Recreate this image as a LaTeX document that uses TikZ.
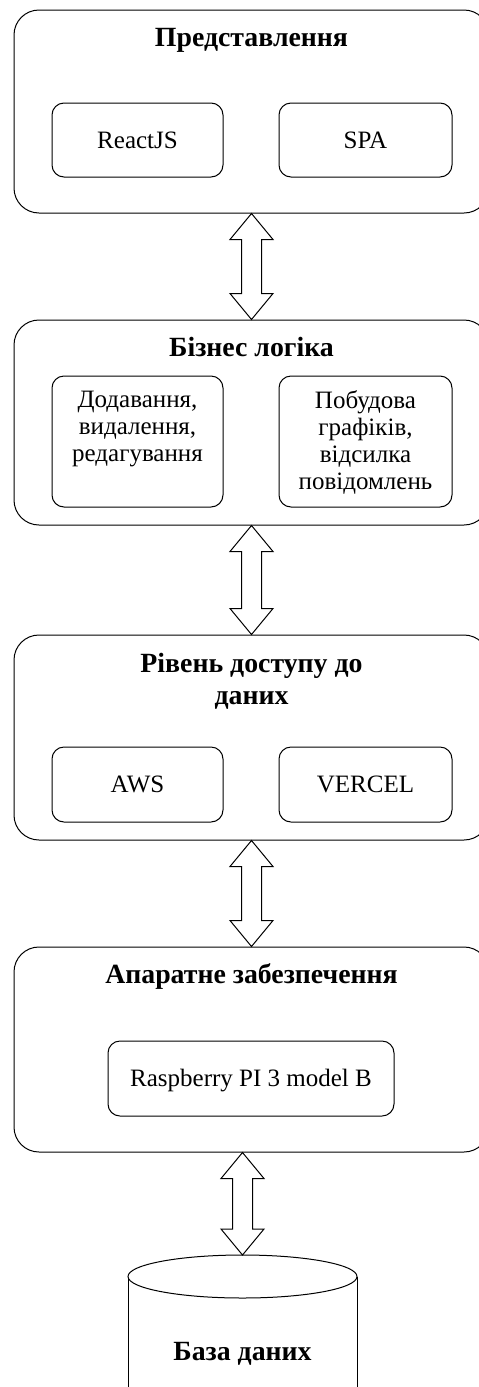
\documentclass[tikz,border=0pt]{standalone}
\usepackage{fontspec}
\setmainfont{Liberation Serif}
\usetikzlibrary{calc}
\newcommand\titlefnt{\fontsize{27.8}{32.5}\selectfont\bfseries}
\newcommand\bodyfnt{\fontsize{25}{27}\selectfont}
\newcommand\blockarrow[2]{%
  \draw[blk] let \p1=(#1), \p2=(#2) in
    (\x1,\y1) -- (\x1+21.5pt,\y1-26pt) -- (\x1+10pt,\y1-26pt) -- (\x1+10pt,\y2+26pt)
    -- (\x1+21.5pt,\y2+26pt) -- (\x1,\y2) -- (\x1-21.5pt,\y2+26pt) -- (\x1-10pt,\y2+26pt)
    -- (\x1-10pt,\y1-26pt) -- (\x1-21.5pt,\y1-26pt) -- cycle;}
\begin{document}
\begin{tikzpicture}[x=1pt,y=-1pt,
  layer/.style={draw, line width=1pt, rounded corners=25pt, minimum width=475pt, inner sep=0pt},
  item/.style={draw, line width=1pt, rounded corners=12pt, inner sep=0pt, font=\bodyfnt},
  oneline/.style={text height=16.5pt, text depth=0pt},
  ttl/.style={font=\titlefnt, inner sep=0pt},
  txt/.style={font=\bodyfnt, inner sep=0pt, align=center, anchor=north},
  blk/.style={draw, line width=1pt, fill=white, line join=miter}]
\useasboundingbox (0,0) rectangle (479,1387);
\fill[white] (0,0) rectangle (479,1387);
\clip (0,0) rectangle (479,1387);

% layer 1
\node[layer, minimum height=203pt] (L1) at (251.5,111.5) {};
\node[ttl, anchor=base] (T1) at (251.5,46.7) {Представлення};
\node[item, oneline, minimum width=171pt, minimum height=74pt] (react) at (137.5,140) {ReactJS};
\node[item, oneline, minimum width=173pt, minimum height=74pt] (spa) at (365.5,140) {SPA};

% layer 2
\node[layer, minimum height=205pt] (L2) at (251.5,422.5) {};
\node[ttl, anchor=base] (T2) at (251.5,356.7) {Бізнес логіка};
\node[item, minimum width=171pt, minimum height=131pt] (add) at (137.5,441.5) {};
\node[txt] (addt) at (137.5,390.5) {Додавання,\\видалення,\\редагування};
\node[item, minimum width=173pt, minimum height=131pt] (plot) at (365.5,441.5) {};
\node[txt] (plott) at (365.5,390.5) {Побудова\\графіків,\\відсилка\\повідомлень};

% layer 3
\node[layer, minimum height=205pt] (L3) at (251.5,737.5) {};
\node[ttl, align=center, anchor=north] (T3) at (251.5,653) {Рівень доступу до\\даних};
\node[item, oneline, minimum width=171pt, minimum height=75pt] (aws) at (137.5,784.5) {AWS};
\node[item, oneline, minimum width=173pt, minimum height=75pt] (vercel) at (365.5,784.5) {VERCEL};

% layer 4
\node[layer, minimum height=205pt] (L4) at (251.5,1049.5) {};
\node[ttl, anchor=base] (T4) at (251.5,983.5) {Апаратне забезпечення};
\node[item, oneline, minimum width=286pt, minimum height=75pt] (rpi) at (251,1078.5) {Raspberry PI 3 model B};

% database
\coordinate (DB) at (242.5,1255);
\fill[white] (128,1276.5) rectangle (357,1400);
\draw[line width=1pt] (128,1276.5) -- (128,1400) (357,1276.5) -- (357,1400);
\draw[line width=1pt, fill=white] (242.5,1276.5) ellipse [x radius=114.5pt, y radius=21.5pt];
\node[ttl, anchor=base] (DBt) at (242.5,1360) {База даних};

% block arrows
\blockarrow{L1.south}{L2.north}
\blockarrow{L2.south}{L3.north}
\blockarrow{L3.south}{L4.north}
\coordinate (A4top) at (DB |- L4.south);
\blockarrow{A4top}{DB}
\end{tikzpicture}
\end{document}
